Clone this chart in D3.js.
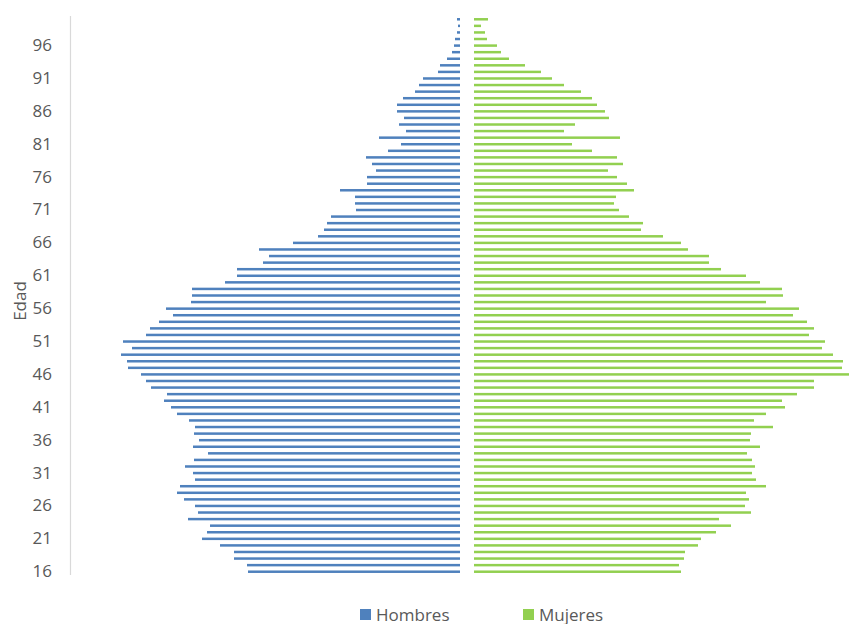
<!DOCTYPE html>
<html>
<head>
<meta charset="utf-8">
<script src="https://cdn.jsdelivr.net/npm/d3@7"></script>
<style>
  body { margin: 0; background: #fff; }
  svg text { font-family: "Open Sans", sans-serif; fill: #595959; }
</style>
</head>
<body>
<div id="chart"></div>
<script>
// ---- data: population by single year of age (16..100) ----
const ages = d3.range(16, 101);

// Hombres, from age 16 upwards
const hombres = [
  212, 213, 226, 226, 240, 258, 253, 250, 272, 262,
  265, 276, 283, 280, 265, 267, 275, 266, 252, 267,
  261, 266, 265, 271, 283, 289, 296, 293, 309, 314,
  319, 332, 333, 339, 328, 337, 314, 310, 301, 287,
  294, 269, 268, 268, 235, 223, 223, 197, 191, 201,
  167, 142, 136, 133, 129, 104, 105, 105, 120, 93,
  93, 84, 88, 94, 72, 59, 81, 54, 61, 56,
  63, 63, 57, 45, 41, 37, 22, 20, 13, 8,
  6, 5, 3, 2, 3
];

// Mujeres, from age 16 upwards
const mujeres = [
  207, 205, 210, 211, 224, 227, 242, 257, 245, 277,
  271, 275, 272, 292, 282, 278, 281, 278, 273, 286,
  276, 277, 299, 280, 292, 311, 308, 323, 340, 340,
  375, 368, 369, 359, 348, 351, 335, 340, 333, 319,
  325, 292, 309, 308, 286, 272, 247, 235, 235, 214,
  207, 189, 167, 169, 155, 145, 140, 142, 160, 153,
  143, 134, 149, 143, 118, 98, 146, 90, 101, 135,
  131, 123, 118, 107, 90, 78, 67, 51, 35, 27,
  23, 13, 11, 7, 14
];

const tickAges = d3.range(16, 101, 5);

const width = 849, height = 624;

const svg = d3.select("#chart").append("svg")
  .attr("width", width)
  .attr("height", height);

// vertical band per age, oldest on top
const y = d3.scaleBand()
  .domain(ages.slice().reverse())
  .range([16, 575])
  .paddingInner(0.62)
  .paddingOuter(0.31);

const maxVal = 375;
const xMale = d3.scaleLinear().domain([0, maxVal]).range([460, 460 - maxVal]);
const xFemale = d3.scaleLinear().domain([0, maxVal]).range([474, 474 + maxVal]);

// axis line on the left
svg.append("line")
  .attr("x1", 70.5).attr("x2", 70.5)
  .attr("y1", 16).attr("y2", 575)
  .attr("stroke", "#d9d9d9")
  .attr("stroke-width", 1.2);

// age labels
const yAxis = d3.axisLeft(y)
  .tickValues(tickAges)
  .tickSize(0)
  .tickPadding(0);

svg.append("g")
  .attr("transform", "translate(52,0)")
  .call(yAxis)
  .call(g => g.select(".domain").remove())
  .selectAll("text")
  .attr("font-size", "17px")
  .attr("fill", "#595959")
  .style("font-family", "'Open Sans', sans-serif");

// axis title
svg.append("text")
  .attr("transform", "translate(26,301) rotate(-90)")
  .attr("text-anchor", "middle")
  .attr("font-size", "17px")
  .text("Edad");

const blue = "#4f81bd";
const green = "#92d050";

svg.append("g").selectAll("rect")
  .data(ages.map((a, i) => ({ age: a, v: hombres[i] })))
  .join("rect")
  .attr("x", d => xMale(d.v))
  .attr("y", d => y(d.age))
  .attr("width", d => xMale(0) - xMale(d.v))
  .attr("height", y.bandwidth())
  .attr("fill", blue);

svg.append("g").selectAll("rect")
  .data(ages.map((a, i) => ({ age: a, v: mujeres[i] })))
  .join("rect")
  .attr("x", xFemale(0))
  .attr("y", d => y(d.age))
  .attr("width", d => xFemale(d.v) - xFemale(0))
  .attr("height", y.bandwidth())
  .attr("fill", green);

// legend
const legend = [
  { name: "Hombres", color: blue, x: 360 },
  { name: "Mujeres", color: green, x: 523 }
];
const lg = svg.append("g").selectAll("g")
  .data(legend)
  .join("g")
  .attr("transform", d => `translate(${d.x},609)`);
lg.append("rect")
  .attr("width", 11).attr("height", 11)
  .attr("fill", d => d.color);
lg.append("text")
  .attr("x", 16)
  .attr("y", 11.5)
  .attr("font-size", "17px")
  .text(d => d.name);
</script>
</body>
</html>
